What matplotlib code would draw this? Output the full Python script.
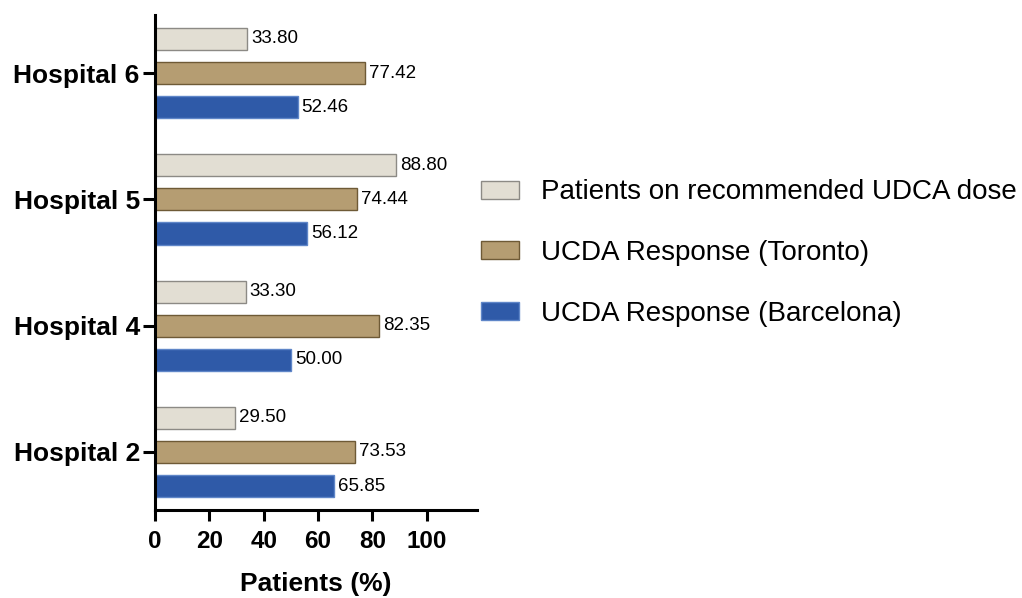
import matplotlib.pyplot as plt
import numpy as np

plt.rcParams['font.family'] = ['Liberation Sans', 'DejaVu Sans']

hospitals = ['Hospital 2', 'Hospital 4', 'Hospital 5', 'Hospital 6']
udca_dose = [29.50, 33.30, 88.80, 33.80]
toronto = [73.53, 82.35, 74.44, 77.42]
barcelona = [65.85, 50.00, 56.12, 52.46]

series = [
    ('Patients on recommended UDCA dose', udca_dose, '#E2DED3', '#8C8A85', 0.27),
    ('UCDA Response (Toronto)', toronto, '#B59D72', '#6E5A36', 0.0),
    ('UCDA Response (Barcelona)', barcelona, '#2F5AA8', '#5F86C8', -0.27),
]

fig = plt.figure(figsize=(10.22, 5.98), dpi=100)
ax = fig.add_axes([0.1517, 0.147, 0.315, 0.828])

y = np.arange(len(hospitals))
handles = []
for label, vals, fc, ec, off in series:
    bars = ax.barh(y + off, vals, height=0.175, color=fc, edgecolor=ec,
                   linewidth=1, label=label)
    handles.append(bars)
    for yy, v in zip(y + off, vals):
        ax.text(v + 1.5, yy, f'{v:.2f}', va='center', ha='left', fontsize=13.5)

ax.set_xlim(0, 118.5)
ax.set_ylim(-0.46, 3.46)
ax.set_xticks([0, 20, 40, 60, 80, 100])
ax.set_yticks(y)
ax.set_yticklabels(hospitals, fontsize=19, fontweight='bold')
for t in ax.get_xticklabels():
    t.set_fontsize(17.5)
    t.set_fontweight('bold')
ax.set_xlabel('Patients (%)', fontsize=19, fontweight='bold', labelpad=14)

for s in ['top', 'right']:
    ax.spines[s].set_visible(False)
for s in ['left', 'bottom']:
    ax.spines[s].set_linewidth(2.2)
ax.tick_params(axis='y', width=2.2, length=9, direction='out', pad=2)
ax.tick_params(axis='x', width=2.2, length=8, direction='out', pad=6)

fig.legend(handles=handles, loc='upper left', bbox_to_anchor=(0.446, 0.742),
           frameon=False, fontsize=20, handlelength=1.37, handleheight=0.62,
           labelspacing=1.25, handletextpad=0.8)

fig.savefig('out.png', dpi=100)
